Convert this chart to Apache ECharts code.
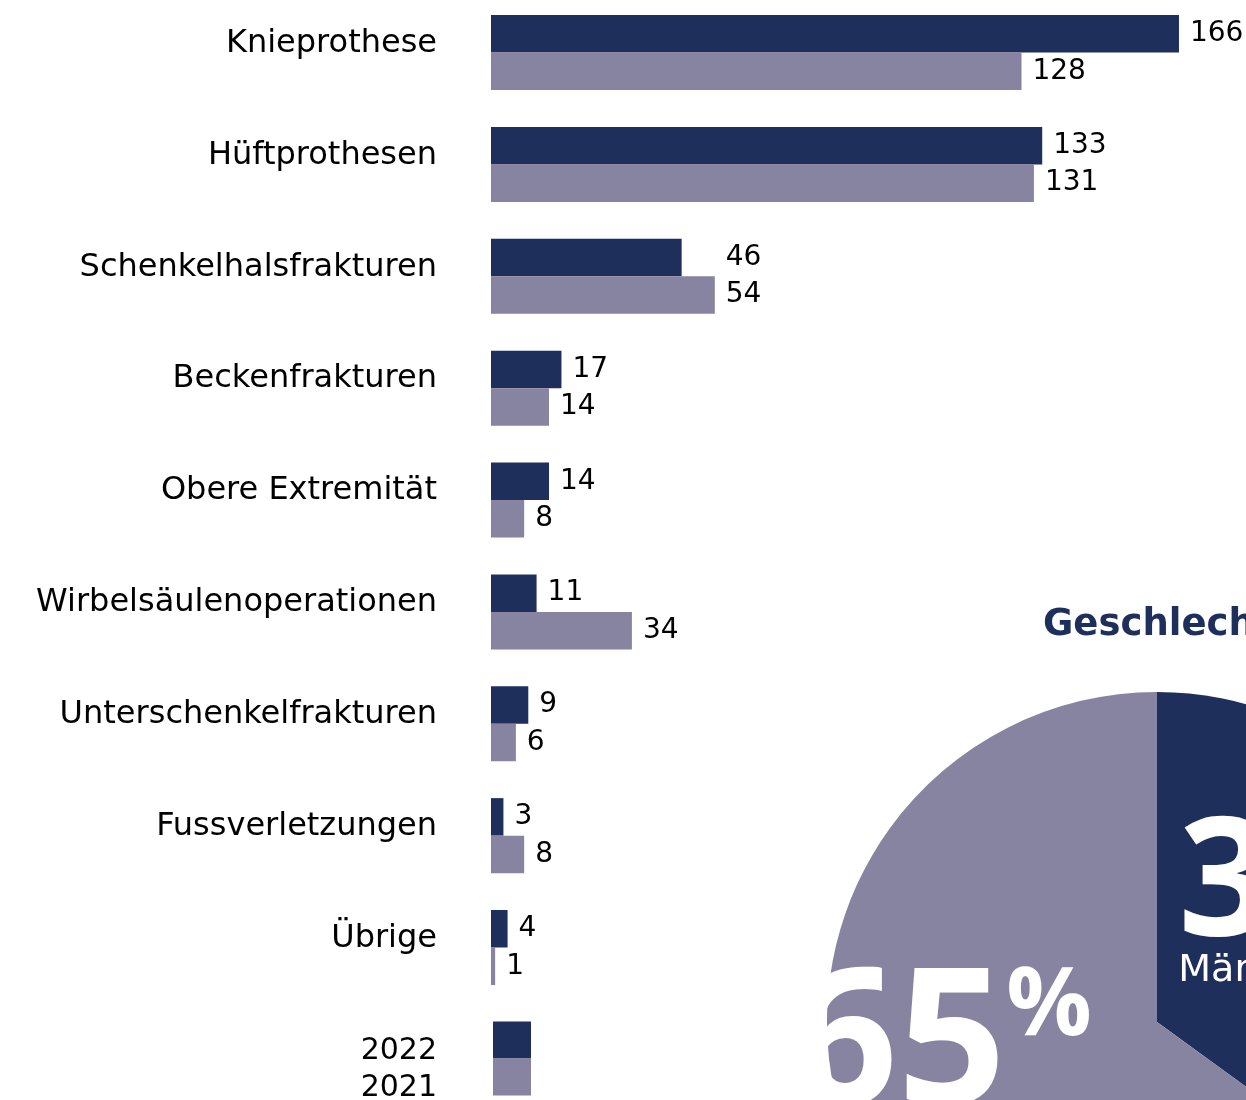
<!DOCTYPE html>
<html>
<head>
<meta charset="utf-8">
<script src="https://cdn.jsdelivr.net/npm/echarts@6/dist/echarts.min.js"></script>
<style>
  html, body { margin: 0; padding: 0; background: #fff; }
  #main { width: 1246px; height: 1100px; }
</style>
</head>
<body>
<div id="main"></div>
<script>
const categories = [
  "Knieprothese",
  "Hüftprothesen",
  "Schenkelhalsfrakturen",
  "Beckenfrakturen",
  "Obere Extremität",
  "Wirbelsäulenoperationen",
  "Unterschenkelfrakturen",
  "Fussverletzungen",
  "Übrige",
];
const values2022 = [166, 133, 46, 17, 14, 11, 9, 3, 4];
const values2021 = [128, 131, 54, 14, 8, 34, 6, 8, 1];
const genderNames = ["Männer", "Frauen"];
const genderShare = [35, 65];

const navy = "#1f2f5c";
const grey = "#8784a1";
const font = "DejaVu Sans";
const bigFont = "Open Sans";

let chart = echarts.init(document.getElementById("main"));

// the 46 label sits in line with the 54 below it
const data2022 = values2022.map(function (v, i) {
  return i === 2 ? { value: v, label: { offset: [33, 0] } } : v;
});

const valueLabel = {
  show: true,
  position: "right",
  distance: 11,
  color: "#000",
  fontFamily: font,
  fontSize: 28,
};

const pieRich = {
  big: { fontFamily: bigFont, fontWeight: "bold", color: "#fff", align: "left" },
  pct: { fontFamily: bigFont, fontWeight: "bold", color: "#fff", verticalAlign: "top" },
  sub: { fontFamily: font, fontSize: 38, lineHeight: 40, color: "#fff", align: "left" },
};

let option = {
  animation: false,
  title: {
    text: "Geschlecht",
    left: 1043,
    top: 607,
    padding: 0,
    textStyle: { fontFamily: font, fontWeight: "bold", fontSize: 37, color: navy },
  },
  legend: {
    orient: "vertical",
    align: "right",
    right: 715,
    top: 1014,
    height: 300,
    padding: 0,
    itemGap: -15,
    itemWidth: 38,
    itemHeight: 37,
    icon: "rect",
    data: ["2022", "2021"],
    formatter: function (name) {
      return "{t|" + name + "}";
    },
    textStyle: {
      color: "#000",
      padding: [0, 51, 0, 0],
      rich: {
        t: { fontFamily: font, fontSize: 30, color: "#000", lineHeight: 8, padding: [22, 0, 0, 0] },
      },
    },
  },
  grid: { left: 491, top: 52.5, width: 746, height: 895 },
  xAxis: { type: "value", min: 0, max: 180, show: false },
  yAxis: {
    type: "category",
    data: categories,
    inverse: true,
    boundaryGap: false,
    axisLine: { show: false },
    axisTick: { show: false },
    axisLabel: {
      margin: 54,
      fontFamily: font,
      fontSize: 32,
      color: "#000",
      verticalAlign: "bottom",
      lineHeight: 18,
    },
  },
  series: [
    {
      name: "2022",
      type: "bar",
      data: data2022,
      barWidth: 37.5,
      barGap: "0%",
      itemStyle: { color: navy },
      label: valueLabel,
    },
    {
      name: "2021",
      type: "bar",
      data: values2021,
      barWidth: 37.5,
      barGap: "0%",
      itemStyle: { color: grey },
      label: valueLabel,
    },
    {
      type: "pie",
      center: [1157, 1022],
      radius: 330,
      startAngle: 90,
      silent: true,
      labelLine: { show: false },
      data: [
        {
          name: genderNames[0],
          value: genderShare[0],
          itemStyle: { color: navy },
          label: {
            show: true,
            position: "inside",
            offset: [2, -38],
            formatter: "{big|{c}}{pct|%}\n{sub|{b}}",
            rich: {
              big: Object.assign({}, pieRich.big, { fontSize: 165, lineHeight: 126 }),
              pct: Object.assign({}, pieRich.pct, { fontSize: 80, lineHeight: 80 }),
              sub: pieRich.sub,
            },
          },
        },
        {
          name: genderNames[1],
          value: genderShare[1],
          itemStyle: { color: grey },
          label: {
            show: true,
            position: "inside",
            offset: [-67, -28],
            formatter: "{big|{c}}{pct|%}\n{sub|{b}}",
            rich: {
              big: Object.assign({}, pieRich.big, { fontSize: 190, lineHeight: 180 }),
              pct: Object.assign({}, pieRich.pct, { fontSize: 95, lineHeight: 80 }),
              sub: pieRich.sub,
            },
          },
        },
      ],
    },
  ],
};

option && chart.setOption(option);
</script>
</body>
</html>
